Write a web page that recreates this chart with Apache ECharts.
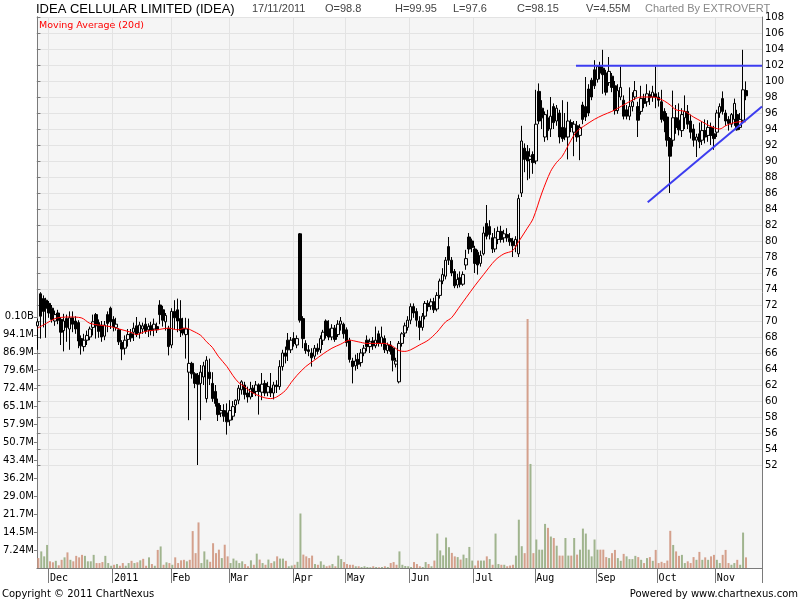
<!DOCTYPE html>
<html><head><meta charset="utf-8">
<script src="https://cdn.jsdelivr.net/npm/echarts@6/dist/echarts.min.js"></script>
<style>html,body{margin:0;padding:0;background:#fff}#c{width:800px;height:600px}</style>
</head><body><div id="c"></div>
<script>
// ---- DATA ----
const monthLabels = ['Dec','2011','Feb','Mar','Apr','May','Jun','Jul','Aug','Sep','Oct','Nov'];
const monthStarts = [4,26,46,66,88,106,128,150,171,192,213,233];
const totalSlots = 249;            // trading-day slots on the axis (last few empty)
const closeBeforeFirst = 70.5;

// [open, close, low, high]
const ohlc = [
[69.4,69.9,66.4,70.3],[73.4,70.6,67.8,73.6],[72.8,71.2,69.2,73.2],[72.6,71.6,67.9,72.9],[72.2,71.0,70.4,72.5],
[71.6,70.2,69.8,72.0],[70.0,70.8,69.4,71.3],[71.0,70.1,69.6,71.4],[70.2,68.6,67.0,70.5],[68.8,70.0,66.2,70.9],
[70.3,69.2,67.4,70.8],[69.0,70.4,66.4,71.2],[70.4,69.6,68.6,71.2],[70.0,69.0,68.4,70.6],[69.8,67.5,66.6,70.1],
[67.8,66.9,65.8,68.2],[66.8,67.6,66.2,68.4],[67.6,68.2,67.0,68.8],[68.0,69.0,67.6,69.3],[69.2,69.9,68.2,70.8],
[70.8,69.4,67.8,71.0],[69.8,68.7,67.9,70.2],[69.5,68.0,67.4,70.0],[68.1,69.5,67.6,70.0],[70.8,69.7,68.6,71.2],
[71.6,69.9,69.0,71.8],[70.2,69.3,68.7,70.6],[69.2,69.6,68.8,70.4],[68.9,67.4,67.0,69.1],[67.3,66.5,65.1,67.6],
[66.6,67.6,65.8,68.2],[67.7,68.3,66.8,69.0],[68.4,67.9,67.4,69.0],[68.6,69.1,67.5,69.8],[69.4,68.3,68.0,70.5],
[68.5,69.5,67.8,69.9],[69.0,69.4,68.4,69.8],[69.6,68.7,68.4,70.4],[68.9,69.3,68.0,69.7],[69.4,68.8,68.2,69.9],
[69.0,69.6,68.1,70.3],[69.3,68.9,68.5,69.8],[72.0,70.8,69.6,72.6],[71.4,70.1,69.3,71.9],[69.9,70.7,68.8,71.0],
[69.1,66.8,65.7,69.4],[67.0,71.2,66.6,71.6],[71.2,70.4,69.0,72.6],[71.4,70.0,68.6,72.8],[70.3,68.8,68.0,72.6],
[69.1,68.5,68.2,70.4],[68.3,69.0,65.3,70.4],[63.6,64.7,57.6,70.3],[64.7,63.4,62.8,64.9],[63.4,62.2,61.6,63.6],
[63.2,62.1,52.0,63.5],[62.2,63.6,57.6,64.5],[63.0,64.4,62.0,64.9],[60.3,65.1,59.8,65.6],[63.6,62.8,62.0,65.3],
[62.2,60.3,59.9,63.6],[61.2,59.7,59.3,62.0],[59.7,58.3,57.5,60.3],[58.5,58.8,58.0,59.5],[58.8,58.1,57.4,59.6],
[58.5,57.4,55.8,59.7],[57.6,58.8,56.9,60.1],[58.1,59.3,57.6,60.0],[59.5,60.1,58.5,60.2],[60.1,61.6,59.6,62.0],
[61.4,62.4,60.8,62.6],[62.0,60.8,60.2,62.4],[61.0,60.5,59.8,61.8],[60.5,61.5,60.2,62.4],[61.6,61.0,60.5,62.0],
[61.2,62.0,60.6,62.5],[62.0,61.2,58.3,62.2],[61.1,62.1,60.1,63.5],[62.2,61.0,60.6,62.6],[61.1,61.8,60.6,62.4],
[61.6,61.0,60.5,63.5],[61.0,62.0,60.2,62.4],[62.0,61.8,61.0,62.6],[61.8,64.3,61.4,65.1],[64.3,66.0,63.8,66.4],
[66.0,65.6,64.7,66.8],[67.6,66.4,65.0,68.5],[66.4,67.6,66.0,68.0],[67.8,67.2,66.8,68.6],[67.0,67.8,66.6,68.2],
[80.9,70.1,69.8,81.0],[70.3,67.8,66.6,70.6],[67.2,66.3,65.9,67.6],[66.4,66.2,65.6,67.0],[66.0,65.4,64.3,66.6],
[65.6,66.6,65.2,67.0],[66.6,66.2,65.8,67.2],[66.4,67.8,66.0,68.2],[67.6,68.6,67.0,68.9],[70.0,68.2,67.8,70.2],
[69.0,68.0,67.6,70.1],[68.0,69.1,67.6,69.6],[69.1,67.7,67.4,69.5],[68.3,69.6,68.0,70.1],[69.6,70.0,68.8,70.5],
[69.6,68.4,67.8,69.8],[68.9,67.3,66.8,69.2],[67.6,65.2,64.8,67.9],[65.0,64.3,62.2,65.4],[64.4,65.0,63.8,65.8],
[65.2,64.6,64.0,66.0],[64.8,66.0,64.3,66.5],[66.0,66.6,65.6,67.0],[67.6,66.8,66.2,68.2],[66.8,67.4,66.0,67.8],
[67.5,66.9,66.4,68.0],[66.9,67.6,66.6,69.3],[68.4,67.2,66.8,68.8],[67.2,68.0,66.8,69.3],[67.8,66.4,66.0,68.2],
[66.3,67.0,65.9,67.3],[67.0,66.2,65.8,67.5],[66.6,65.1,63.7,66.8],[64.6,65.0,64.2,65.4],[62.4,67.2,62.2,67.5],
[67.2,68.4,66.8,68.6],[68.5,69.4,68.0,69.8],[69.2,70.1,68.8,70.6],[70.1,71.8,69.6,72.2],[71.8,71.0,70.4,72.2],
[71.2,70.1,69.3,71.6],[70.0,69.2,67.6,70.6],[69.2,70.6,68.8,71.0],[70.6,72.2,70.2,72.5],[72.2,71.8,71.2,72.6],
[71.9,72.4,71.4,72.8],[72.4,71.4,71.0,72.9],[71.5,73.2,71.2,73.6],[73.2,75.0,72.8,75.3],[75.0,75.8,74.6,76.6],
[75.6,77.6,75.2,78.0],[79.3,77.6,77.0,80.5],[77.6,76.0,75.6,78.0],[76.2,74.4,74.1,76.5],[74.5,75.2,74.1,75.9],
[75.4,74.6,74.2,76.2],[74.6,75.8,74.4,76.2],[77.0,77.8,76.4,78.9],[80.5,79.0,78.4,81.0],[80.0,79.2,78.6,80.3],
[79.0,77.2,76.0,79.4],[78.6,77.0,75.8,78.9],[77.2,78.2,76.8,78.8],[78.4,81.0,78.2,81.8],[82.2,80.6,80.2,84.5],
[81.8,80.8,80.2,82.6],[80.4,79.0,78.5,81.0],[79.0,80.4,78.6,81.6],[80.2,81.2,79.6,81.8],[81.2,80.2,79.8,81.9],
[80.4,80.9,79.8,81.4],[80.8,80.4,79.9,81.6],[80.3,79.9,79.4,81.0],[80.0,79.4,78.0,80.4],[79.4,80.2,78.6,80.6],
[78.4,85.3,78.0,85.8],[86.0,92.5,85.5,94.4],[91.6,90.2,88.6,92.2],[91.2,90.0,87.6,92.0],[90.2,90.6,87.8,91.6],
[90.8,89.8,88.4,91.2],[90.0,94.6,89.6,98.9],[98.7,95.0,94.6,99.7],[96.6,95.4,94.0,97.6],[93.0,95.8,92.4,96.2],
[95.4,93.8,92.6,96.4],[94.0,95.6,93.0,98.0],[96.8,94.8,94.0,97.2],[95.0,96.6,94.4,97.0],[96.0,93.0,92.2,96.4],
[94.2,92.8,92.4,97.6],[94.1,93.0,92.6,96.0],[93.0,95.0,90.2,97.4],[94.8,94.2,93.6,95.2],[93.6,94.6,90.6,95.0],
[94.4,93.0,92.4,95.0],[93.2,94.2,90.1,94.6],[97.0,95.2,94.6,97.4],[96.8,95.5,95.0,100.5],[99.0,96.0,95.6,99.6],
[100.1,98.0,97.6,100.4],[101.4,99.4,99.0,102.6],[100.2,101.8,99.8,102.0],[101.8,101.0,100.2,102.4],[101.6,100.8,98.4,103.9],
[101.0,98.6,98.2,101.4],[99.8,101.2,99.4,103.0],[100.6,99.2,98.6,101.0],[99.4,96.3,95.8,100.0],[96.3,98.8,95.9,99.6],
[98.0,99.2,97.6,101.8],[97.6,95.6,95.2,98.2],[96.4,95.6,95.2,97.0],[95.6,96.8,95.1,99.2],[96.8,97.4,96.2,98.6],
[98.0,98.8,97.6,100.0],[96.8,95.1,93.0,97.4],[96.2,97.8,95.8,99.4],[97.8,97.2,96.6,98.4],[97.4,98.4,96.8,99.6],
[98.3,97.9,97.0,98.8],[98.0,98.6,97.4,99.4],[98.4,98.0,96.6,101.8],[98.0,97.6,96.8,98.6],[97.4,95.2,94.8,98.9],
[96.2,95.0,93.6,96.6],[95.5,92.6,91.8,96.0],[92.8,90.6,86.0,93.0],[92.6,95.4,91.8,98.8],[95.4,94.2,93.4,97.0],
[95.1,93.9,93.2,97.2],[93.8,95.8,93.0,96.6],[95.4,96.2,94.0,98.2],[96.2,94.6,94.0,97.0],[95.0,93.6,92.8,95.8],
[94.0,92.6,91.8,94.6],[92.6,93.0,90.5,93.4],[93.4,92.4,91.6,94.8],[92.6,93.8,92.0,95.0],[93.8,93.0,92.2,95.2],
[93.2,94.2,92.4,95.1],[94.2,93.2,92.0,94.8],[93.4,92.8,91.4,94.4],[93.6,96.0,93.0,96.4],[96.0,96.8,95.4,97.2],
[97.8,96.2,95.8,98.7],[96.0,95.0,94.4,96.4],[95.2,94.7,93.8,95.6],[94.6,95.8,94.2,96.0],[95.2,97.2,94.4,97.8],
[95.8,93.9,93.8,96.4],[94.2,95.2,93.9,96.0],[95.1,98.9,94.9,103.9],[98.8,98.15,97.6,99.95]
];

// volume in millions of shares
const volumeM = [
4.0,6.7,4.7,9.3,2.7,2.3,2.9,1.1,3.3,4.3, 6.3,3.3,2.7,4.9,4.3,5.3,4.9,2.7,2.7,5.3,
2.0,2.0,2.4,4.9,2.0,0.9,1.3,1.6,0.9,2.0, 0.9,2.0,2.9,2.0,2.3,3.1,3.7,0.9,4.3,1.6,
0.9,7.3,8.7,1.3,2.3,2.0,1.3,4.3,2.0,3.1, 3.3,2.7,3.3,14.9,6.0,18.4,2.0,6.7,3.4,2.5,
10.0,6.0,7.4,4.0,9.4,4.7,2.0,3.8,3.0,2.0, 2.7,1.6,0.7,3.1,1.3,5.8,3.4,2.0,1.3,3.4,
2.0,2.7,4.7,3.8,3.8,2.9,0.7,1.0,1.3,2.5, 22.0,5.4,4.7,4.0,5.0,1.6,1.3,2.7,1.3,0.7,
1.0,1.6,0.7,5.0,3.6,2.4,1.6,1.3,1.3,0.7, 0.7,0.4,0.7,0.4,0.3,0.7,0.4,0.3,0.4,0.7,
0.4,2.0,2.4,1.3,6.7,1.3,0.8,0.7,0.4,2.4, 1.6,0.7,0.4,2.4,1.6,0.7,3.0,13.9,7.1,5.1,
12.3,8.4,6.1,4.7,4.4,3.4,5.4,4.0,8.5,3.0, 1.0,3.0,3.0,3.0,4.7,3.6,1.3,13.9,1.6,1.3,
1.3,0.7,1.0,1.3,5.0,19.5,8.8,6.0,100.5,42.0, 6.0,11.5,7.4,7.4,17.8,16.2,12.7,12.1,9.0,5.0,
5.0,12.1,5.0,5.0,12.1,5.4,7.4,15.9,13.9,7.4, 4.7,11.5,7.4,7.4,7.4,4.4,4.0,6.0,7.3,4.0,
2.9,5.7,4.7,3.6,3.6,4.9,4.4,3.3,2.0,4.0, 4.4,2.9,7.3,2.0,2.5,2.0,3.0,15.0,9.3,6.7,
4.9,5.3,2.0,2.7,2.0,4.4,3.3,6.5,3.3,4.3, 3.3,4.7,5.3,3.3,2.0,5.3,7.3,2.0,1.3,2.0,
3.3,1.3,14.3,4.3
];

// Moving average (20d): [slot index, value]
const maPoints = [[0,69.1],[3,69.7],[6,70.3],[8,70.45],[11,70.5],[15,70.4],[18,69.7],[21,69.5],[25,69.3],[28,69.0],
[32,68.6],[34,68.3],[37,68.7],[41,68.9],[45,69.1],[48,68.9],[51,69.1],[53,68.8],[56,68.2],[58,67.4],[60,66.7],
[62,65.6],[65,64.3],[67,63.2],[69,62.3],[71,61.8],[73,61.2],[75,60.8],[78,60.4],[80,60.3],[82,60.5],[85,61.3],
[87,62.3],[89,63.2],[92,64.3],[95,65.1],[98,65.9],[101,66.6],[104,67.1],[107,67.6],[110,67.4],[113,67.2],
[116,67.2],[119,67.2],[122,66.8],[124,66.3],[126,66.2],[128,66.4],[131,67.0],[134,67.6],[137,68.6],[140,69.9],
[142,70.4],[145,71.9],[147,72.9],[150,74.4],[153,75.8],[157,77.6],[160,78.4],[163,78.8],[165,79.9],[168,81.6],
[170,82.8],[173,86.0],[176,88.7],[178,89.8],[180,90.6],[183,92.6],[185,93.7],[188,94.5],[191,95.2],[194,95.75],
[197,96.2],[201,97.0],[204,97.6],[207,98.0],[210,98.0],[212,97.95],[215,97.5],[217,97.0],[219,96.4],[222,96.2],
[225,95.5],[228,94.9],[231,94.3],[234,94.0],[236,94.4],[238,94.7],[241,94.9],[243,94.9]];

// hand-drawn trendlines: [slot position, price]
const resistanceLine = [[184.7,101.9],[248.5,101.9]];
const supportLine = [[209.3,84.85],[248.5,96.8]];

// axis ticks
const priceMin = 52, priceMax = 108, priceStep = 2;
const volStepM = 7.24;
const volTickLabels = ['7.24M','14.5M','21.7M','29.0M','36.2M','43.4M','50.7M','57.9M','65.1M','72.4M','79.6M','86.9M','94.1M','0.10B'];
const volAxisMaxM = 222.4;

// ---- CHART ----
const chart = echarts.init(document.getElementById('c'), null, {renderer:'canvas', width:800, height:600});
const cats = []; for (let i = 0; i < totalSlots; i++) cats.push('s' + i);
const isStart = (idx) => monthStarts.indexOf(idx) >= 0;
const closes = ohlc.map(r => r[1]);
const volUp = '#a0b48e', volDown = '#d4a08c';
const volData = volumeM.map((v, i) => {
  const prev = i === 0 ? closeBeforeFirst : closes[i - 1];
  return { value: v * 1e6, itemStyle: { color: closes[i] < prev ? volDown : volUp } };
});
const volTickValues = volTickLabels.map((_, k) => (k + 1) * volStepM * 1e6);
const axisColor = '#7a7a7a', gridColor = '#e3e3e3';
const F = 'DejaVu Sans';

const hdr = (x, text, color) => ({ type:'text', x:x, y:9, style:{ text:text, fontFamily:'Liberation Sans', fontSize:11, fill:color || '#444', verticalAlign:'middle' } });

chart.setOption({
  animation: false,
  backgroundColor: '#ffffff',
  grid: [
    { left:36, right:38, top:17, height:448, show:false },
    { left:36, right:38, top:17, bottom:32, show:true, backgroundColor:'#f5f5f5', borderWidth:0 }
  ],
  xAxis: [
    { type:'category', gridIndex:0, data:cats, boundaryGap:true, axisLine:{show:false}, axisTick:{show:false}, axisLabel:{show:false}, splitLine:{show:false} },
    { type:'category', gridIndex:1, data:cats, boundaryGap:true,
      axisLine:{ show:true, lineStyle:{ color:axisColor, width:1 } },
      axisTick:{ show:true, interval:isStart, length:15, lineStyle:{ color:axisColor } },
      axisLabel:{ show:true, interval:isStart, align:'left', margin:5, fontFamily:'DejaVu Sans Mono', fontSize:10, color:'#000',
        formatter:(v, idx) => { const k = monthStarts.indexOf(idx); return k >= 0 ? monthLabels[k] : ''; } },
      splitLine:{ show:true, interval:isStart, lineStyle:{ color:gridColor, width:1 } } },
    { type:'value', gridIndex:0, min:-0.5, max:totalSlots - 0.5, show:false }
  ],
  yAxis: [
    { type:'value', gridIndex:0, position:'right', min:priceMin, max:priceMax, interval:priceStep,
      axisLine:{ show:true, lineStyle:{ color:axisColor } },
      axisTick:{ show:true, length:3, lineStyle:{ color:axisColor } },
      axisLabel:{ margin:3, fontFamily:F, fontSize:10, color:'#000' },
      splitLine:{ show:true, lineStyle:{ color:gridColor, width:1 } } },
    { type:'value', gridIndex:1, position:'left', min:0, max:volAxisMaxM * 1e6,
      axisLine:{ show:true, lineStyle:{ color:axisColor } },
      axisTick:{ show:true, length:3, customValues:volTickValues, lineStyle:{ color:axisColor } },
      axisLabel:{ margin:3, fontFamily:F, fontSize:10, color:'#000', customValues:volTickValues,
        formatter:(v) => { const k = Math.round(v / (volStepM * 1e6)) - 1; return volTickLabels[k] || ''; } },
      splitLine:{ show:false } },
    { type:'value', gridIndex:1, position:'right', min:0, max:1,
      axisLine:{ show:true, lineStyle:{ color:axisColor } }, axisTick:{show:false}, axisLabel:{show:false}, splitLine:{show:false} }
  ],
  series: [
    { type:'bar', xAxisIndex:1, yAxisIndex:1, data:volData, barWidth:2, z:1 },
    { type:'candlestick', xAxisIndex:0, yAxisIndex:0, data:ohlc, barWidth:3, z:3,
      itemStyle:{ color:'#f5f5f5', color0:'#000000', borderColor:'#000000', borderColor0:'#000000', borderWidth:1 } },
    { type:'line', xAxisIndex:0, yAxisIndex:0, data:maPoints, symbol:'none', smooth:0.3, z:4,
      lineStyle:{ color:'#ff0000', width:1 } },
    { type:'line', xAxisIndex:2, yAxisIndex:0, data:resistanceLine, symbol:'none', z:5, lineStyle:{ color:'#3c3cf0', width:2 } },
    { type:'line', xAxisIndex:2, yAxisIndex:0, data:supportLine, symbol:'none', z:5, lineStyle:{ color:'#3c3cf0', width:2 } }
  ],
  graphic: [
    { type:'text', x:36, y:9, style:{ text:'IDEA CELLULAR LIMITED (IDEA)', fontFamily:'Liberation Sans', fontSize:13, fill:'#000', verticalAlign:'middle' } },
    hdr(252, '17/11/2011'), hdr(325, 'O=98.8'), hdr(395, 'H=99.95'), hdr(453, 'L=97.6'),
    hdr(517, 'C=98.15'), hdr(586, 'V=4.55M'), hdr(645, 'Charted By EXTROVERT', '#888'),
    { type:'text', x:39, y:26, z:10, style:{ text:'Moving Average (20d)', fontFamily:F, fontSize:9.5, fill:'#ff0000', verticalAlign:'middle' } },
    { type:'text', x:2, y:594, style:{ text:'Copyright © 2011 ChartNexus', fontFamily:F, fontSize:10, fill:'#000', verticalAlign:'middle' } },
    { type:'text', x:798, y:594, style:{ text:'Powered by www.chartnexus.com', fontFamily:F, fontSize:10, fill:'#000', align:'right', verticalAlign:'middle' } }
  ]
});
</script>
</body></html>
